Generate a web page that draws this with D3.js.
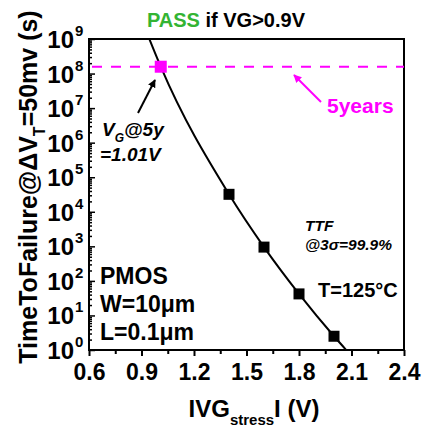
<!DOCTYPE html>
<html>
<head>
<meta charset="utf-8">
<script src="https://cdn.jsdelivr.net/npm/d3@7"></script>
<style>
  body { margin: 0; background: #fff; }
  svg { font-family: "Liberation Sans", Arial, sans-serif; font-weight: bold; }
</style>
</head>
<body>
<svg width="423" height="429"></svg>
<script>
// data
const vStress = [1.4, 1.6, 1.8, 2.0]
const ttf = [3.2e4, 950, 42, 2.5]
const vg5y = 1.01
const fiveYears = 1.577e8
const fitV = [0.94, 1.01, 1.4, 1.6, 1.8, 2.0, 2.07]
const fitT = [1.15e9, 1.577e8, 3.2e4, 950, 42, 2.5, 1]
const xTicks = [0.6, 0.9, 1.2, 1.5, 1.8, 2.1, 2.4]
const yExps = [0, 1, 2, 3, 4, 5, 6, 7, 8, 9]

const svg = d3.select('svg')
const L = 89, R = 404, T = 39, B = 350
const xs = d3.scaleLinear().domain([0.6, 2.4]).range([L, R])
const ys = d3.scaleLog().domain([1, 1e9]).range([B, T])
const magenta = '#ff00ff'
const font = '"Liberation Sans", Arial, sans-serif'

const defs = svg.append('defs')
defs.append('clipPath').attr('id', 'clip')
  .append('rect').attr('x', L).attr('y', T).attr('width', R - L).attr('height', B - T)

// x axis, ticks outward
const xMinor = [0.75, 1.05, 1.35, 1.65, 1.95, 2.25]
const gx = svg.append('g').attr('transform', 'translate(0,' + B + ')')
gx.call(d3.axisBottom(xs).tickValues(xTicks).tickSize(6).tickFormat(d3.format('.1f')))
const gx2 = svg.append('g').attr('transform', 'translate(0,' + B + ')')
gx2.call(d3.axisBottom(xs).tickValues(xMinor).tickSize(4).tickFormat(''))
svg.selectAll('.domain').remove()
gx.selectAll('line').attr('stroke', '#000').attr('stroke-width', 2)
gx2.selectAll('line').attr('stroke', '#000').attr('stroke-width', 2)
gx.selectAll('text').attr('font-size', 23).attr('font-family', font).attr('fill', '#000')
  .attr('font-weight', 'bold').attr('dy', null).attr('y', 30)

// y axis, ticks inward
const yMinor = []
yExps.slice(0, -1).forEach(function(e) { d3.range(2, 10).forEach(function(m) { yMinor.push(m * Math.pow(10, e)) }) })
const gy = svg.append('g').attr('transform', 'translate(' + L + ',0)')
gy.call(d3.axisRight(ys).tickValues(yExps.map(function(e) { return Math.pow(10, e) })).tickSize(6).tickFormat(''))
const gy2 = svg.append('g').attr('transform', 'translate(' + L + ',0)')
gy2.call(d3.axisRight(ys).tickValues(yMinor).tickSize(3).tickFormat(''))
svg.selectAll('.domain').remove()
gy.selectAll('line').attr('stroke', '#000').attr('stroke-width', 1.5)
gy2.selectAll('line').attr('stroke', '#000').attr('stroke-width', 1.5)

svg.append('g').selectAll('text').data(yExps).enter().append('text')
  .attr('x', 74).attr('y', function(d) { return ys(Math.pow(10, d)) + 9 })
  .attr('text-anchor', 'end').attr('font-size', 24)
  .text('10')
svg.append('g').selectAll('text').data(yExps).enter().append('text')
  .attr('x', 75).attr('y', function(d) { return ys(Math.pow(10, d)) - 3 })
  .attr('font-size', 15)
  .text(function(d) { return d })

// frame
svg.append('rect').attr('x', L).attr('y', T).attr('width', R - L).attr('height', B - T)
  .attr('fill', 'none').attr('stroke', '#000').attr('stroke-width', 2)

// 5 years line
svg.append('line').attr('x1', L).attr('x2', R)
  .attr('y1', ys(fiveYears)).attr('y2', ys(fiveYears))
  .attr('stroke', magenta).attr('stroke-width', 2).attr('stroke-dasharray', '10,9')
  .attr('stroke-dashoffset', -3)

// fit curve
const line = d3.line()
  .x(function(d) { return xs(d[0]) })
  .y(function(d) { return ys(d[1]) })
  .curve(d3.curveMonotoneX)
svg.append('path').datum(d3.zip(fitV, fitT)).attr('d', line)
  .attr('clip-path', 'url(#clip)')
  .attr('fill', 'none').attr('stroke', '#000').attr('stroke-width', 2)

// points
svg.append('g').selectAll('rect').data(d3.zip(vStress, ttf)).enter().append('rect')
  .attr('x', function(d) { return xs(d[0]) - 5.5 })
  .attr('y', function(d) { return ys(d[1]) - 5.5 })
  .attr('width', 11).attr('height', 11).attr('fill', '#000')
svg.append('rect').attr('x', xs(vg5y) - 6).attr('y', ys(fiveYears) - 6)
  .attr('width', 12).attr('height', 12).attr('fill', magenta)

// arrows
function marker(id, color) {
  defs.append('marker').attr('id', id).attr('viewBox', '0 0 10 10').attr('refX', 9).attr('refY', 5)
    .attr('markerWidth', 4).attr('markerHeight', 4).attr('orient', 'auto')
    .append('path').attr('d', 'M0,0 L10,5 L0,10 Z').attr('fill', color)
}
marker('ab', '#000')
marker('am', magenta)
svg.append('line').attr('x1', 138).attr('y1', 113).attr('x2', 155).attr('y2', 80)
  .attr('stroke', '#000').attr('stroke-width', 2).attr('marker-end', 'url(#ab)')
svg.append('line').attr('x1', 321).attr('y1', 102).attr('x2', 294).attr('y2', 75)
  .attr('stroke', magenta).attr('stroke-width', 2).attr('marker-end', 'url(#am)')

// texts
const title = svg.append('text').attr('x', 226).attr('y', 27).attr('text-anchor', 'middle').attr('font-size', 20)
title.append('tspan').attr('fill', '#33b433').text('PASS')
title.append('tspan').attr('fill', '#000').text(' if VG>0.9V')

svg.append('text').attr('x', 327).attr('y', 113).attr('fill', magenta).attr('font-size', 21).text('5years')

const vg = svg.append('text').attr('x', 102).attr('y', 136).attr('font-size', 19).attr('font-style', 'italic')
vg.append('tspan').text('V')
vg.append('tspan').attr('font-size', 12).attr('dy', 6).text('G')
vg.append('tspan').attr('dy', -6).text('@5y')
svg.append('text').attr('x', 100).attr('y', 161).attr('font-size', 19).attr('font-style', 'italic').text('=1.01V')

svg.append('text').attr('x', 305).attr('y', 231).attr('font-size', 15.5).attr('font-style', 'italic').text('TTF')
svg.append('text').attr('x', 305).attr('y', 250).attr('font-size', 15.5).attr('font-style', 'italic').text('@3σ=99.9%')

svg.append('text').attr('x', 100).attr('y', 284).attr('font-size', 23).text('PMOS')
svg.append('text').attr('x', 100).attr('y', 312).attr('font-size', 23).text('W=10μm')
svg.append('text').attr('x', 100).attr('y', 340).attr('font-size', 23).text('L=0.1μm')
svg.append('text').attr('x', 318).attr('y', 297).attr('font-size', 20).text('T=125°C')

// axis titles
const xt = svg.append('text').attr('x', 254).attr('y', 417).attr('text-anchor', 'middle').attr('font-size', 24)
xt.append('tspan').text('IVG')
xt.append('tspan').attr('font-size', 15).attr('dy', 8).text('stress')
xt.append('tspan').attr('dy', -8).text('I (V)')

const yt = svg.append('text').attr('transform', 'translate(37,187) rotate(-90)')
  .attr('text-anchor', 'middle').attr('font-size', 25)
yt.append('tspan').text('TimeToFailure@ΔV')
yt.append('tspan').attr('font-size', 16).attr('dy', 8).text('T')
yt.append('tspan').attr('dy', -8).text('=50mv (s)')
</script>
</body>
</html>
